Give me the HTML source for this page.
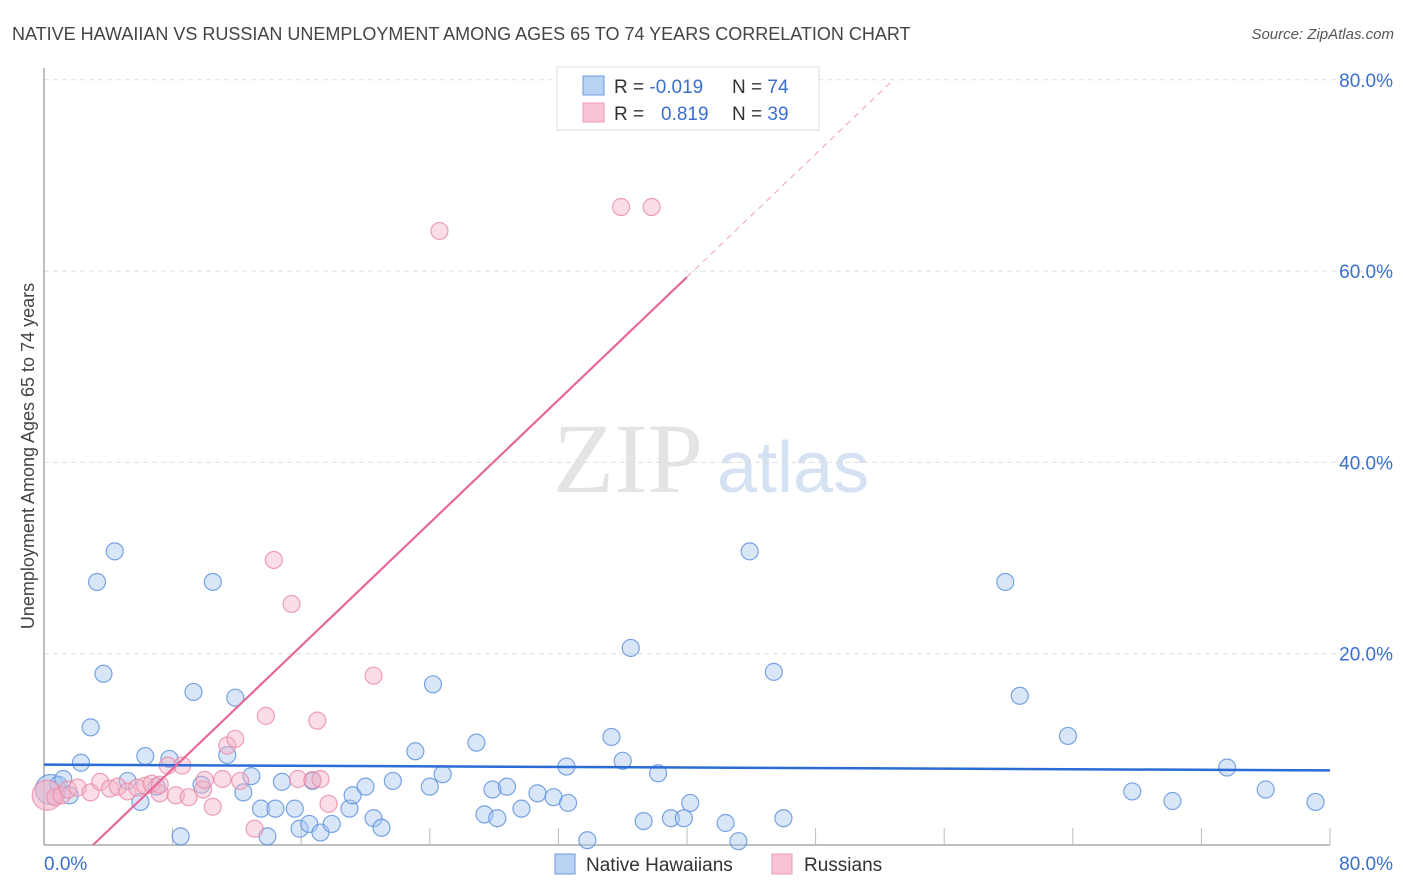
<!DOCTYPE html>
<html><head><meta charset="utf-8">
<style>
body{margin:0;background:#fff;font-family:"Liberation Sans",sans-serif;}
svg{display:block}
</style></head>
<body>
<svg id="chart" width="1406" height="892">
<text x="12" y="40" font-size="18" fill="#444">NATIVE HAWAIIAN VS RUSSIAN UNEMPLOYMENT AMONG AGES 65 TO 74 YEARS CORRELATION CHART</text>
<text x="1394" y="39" font-size="15" fill="#555" font-style="italic" text-anchor="end">Source: ZipAtlas.com</text>
<text transform="translate(34,456) rotate(-90)" font-size="18" fill="#444" text-anchor="middle">Unemployment Among Ages 65 to 74 years</text>
<g>
<text x="553" y="492" font-size="100" font-family="Liberation Serif,serif" fill="#e4e4e4">ZIP</text>
<text x="717" y="492" font-size="72" fill="#d4e2f4">atlas</text>
</g>
<g id="grid"></g><g id="marks"></g>
<g>
<rect x="557" y="67" width="262" height="63" fill="#fff" stroke="#ddd"/>
<rect x="583" y="76" width="21" height="19" fill="#b9d2f4" stroke="#6d9be0"/>
<rect x="583" y="103" width="21" height="19" fill="#f8c4d4" stroke="#ee9ab4"/>
<text x="614" y="93" font-size="19" fill="#333">R = <tspan fill="#3a6fd0">-0.019</tspan><tspan x="732">N = </tspan><tspan fill="#3a6fd0">74</tspan></text>
<text x="614" y="120" font-size="19" fill="#333">R = <tspan x="661" fill="#3a6fd0">0.819</tspan><tspan x="732">N = </tspan><tspan fill="#3a6fd0">39</tspan></text>
</g>
<g>
<rect x="555" y="854" width="20" height="20" fill="#b9d2f4" stroke="#6d9be0"/>
<text x="586" y="871" font-size="19" fill="#333">Native Hawaiians</text>
<rect x="772" y="854" width="20" height="20" fill="#f8c4d4" stroke="#ee9ab4"/>
<text x="804" y="871" font-size="19" fill="#333">Russians</text>
</g>
</svg>
<script>
const yTicks=[20,40,60,80];
const xTickLabels=["0.0%","80.0%"];
const blueX=[0.4,0.9,1.2,1.6,2.3,2.9,3.3,3.7,4.4,5.2,6.0,6.3,7.0,7.8,8.5,9.3,9.8,10.5,11.4,11.9,12.4,12.9,13.5,13.9,14.4,14.8,15.6,15.9,16.5,16.7,17.2,17.9,19.0,19.2,20.0,20.5,21.0,21.7,23.1,24.0,24.2,24.8,26.9,27.4,27.9,28.2,28.8,29.7,30.7,31.7,32.5,32.6,33.8,35.3,36.0,36.5,37.3,38.2,39.0,39.8,40.2,42.4,43.2,43.9,45.4,46.0,59.8,60.7,63.7,67.7,70.2,73.6,76.0,79.1];
const blueY=[5.8,6.3,6.9,5.2,8.6,12.3,27.5,17.9,30.7,6.7,4.5,9.3,6.1,9.0,0.9,16.0,6.3,27.5,9.4,15.4,5.5,7.2,3.8,0.9,3.8,6.6,3.8,1.7,2.2,6.7,1.3,2.2,3.8,5.2,6.1,2.8,1.8,6.7,9.8,6.1,16.8,7.4,10.7,3.2,5.8,2.8,6.1,3.8,5.4,5.0,8.2,4.4,0.5,11.3,8.8,20.6,2.5,7.5,2.8,2.8,4.4,2.3,0.4,30.7,18.1,2.8,27.5,15.6,11.4,5.6,4.6,8.1,5.8,4.5];
const pinkX=[0.2,0.7,1.1,1.5,2.1,2.9,3.5,4.1,4.6,5.2,5.8,6.3,6.7,7.2,7.7,8.2,8.6,9.0,9.9,10.5,11.1,11.4,11.9,12.2,13.1,13.8,14.3,15.4,15.8,16.7,17.0,17.2,17.7,20.5,24.6,35.9,37.8,7.2,10.0];
const pinkY=[5.2,5.0,5.2,5.8,6.0,5.5,6.6,5.9,6.1,5.6,6.0,6.2,6.4,5.4,8.3,5.2,8.3,5.0,5.8,4.0,6.9,10.4,11.1,6.7,1.7,13.5,29.8,25.2,6.9,6.8,13.0,6.9,4.3,17.7,64.2,66.7,66.7,6.3,6.8];
const blueFit=[-0.0075,8.4];
const pinkFit=[1.607,-4.9];
const NS="http://www.w3.org/2000/svg";
const X=v=>44+v/80*1286, Y=v=>845-v/20*191.3;
const grid=document.getElementById('grid'), marks=document.getElementById('marks');
function mk(tag,attrs,parent){const e=document.createElementNS(NS,tag);for(const k in attrs)e.setAttribute(k,attrs[k]);parent.appendChild(e);return e;}
yTicks.forEach(t=>{
 const l=mk('line',{x1:44,x2:1394,y1:Y(t),y2:Y(t),stroke:'#ddd','stroke-dasharray':'5,4'},grid);
 
 
 const tx=mk('text',{x:1393,y:Y(t)+7,'font-size':19,fill:'#3a6fd0','text-anchor':'end'},grid);
 tx.textContent=t.toFixed(1)+'%';
 
 
});
const ax=mk('line',{x1:44,x2:1330,y1:845,y2:845,stroke:'#aaa','stroke-width':1.5},grid);


const ay=mk('line',{x1:44,x2:44,y1:68,y2:845,stroke:'#aaa','stroke-width':1.5},grid);


for(let i=1;i<=10;i++){const tk=mk('line',{x1:X(i*8),x2:X(i*8),y1:828,y2:845,stroke:'#bbb'},grid);
 
 }
const xl0=mk('text',{x:44,y:870,'font-size':19,fill:'#3a6fd0'},grid);xl0.textContent=xTickLabels[0];


const xl1=mk('text',{x:1393,y:870,'font-size':19,fill:'#3a6fd0','text-anchor':'end'},grid);xl1.textContent=xTickLabels[1];


function pts(xs,ys,fill,stroke,name){
 xs.forEach((x,i)=>{const big=(i===0);
  const c=mk('circle',{cx:X(x),cy:Y(ys[i]),r:big?15:8.5,fill:fill,'fill-opacity':big?0.6:0.45,stroke:stroke,'stroke-opacity':0.8,'stroke-width':1.2},marks);
  
  });
}
pts(blueX,blueY,'#a9c7f0','#5a8fdc','native-hawaiian-point');
pts(pinkX,pinkY,'#f5b3c7','#e98aa8','russian-point');
const bl=mk('line',{x1:X(0),y1:Y(blueFit[1]),x2:X(80),y2:Y(blueFit[1]+80*blueFit[0]),stroke:'#2a6bd6','stroke-width':2.5},marks);


const x0=-pinkFit[1]/pinkFit[0], xs=40, xe=(80-pinkFit[1])/pinkFit[0];
const pl=mk('line',{x1:X(x0),y1:Y(0),x2:X(xs),y2:Y(pinkFit[0]*xs+pinkFit[1]),stroke:'#e8679a','stroke-width':2.2},marks);


const pd=mk('line',{x1:X(xs),y1:Y(pinkFit[0]*xs+pinkFit[1]),x2:X(xe),y2:Y(80),stroke:'#f0a0b8','stroke-width':1,'stroke-dasharray':'6,5'},marks);


</script>
</body></html>
